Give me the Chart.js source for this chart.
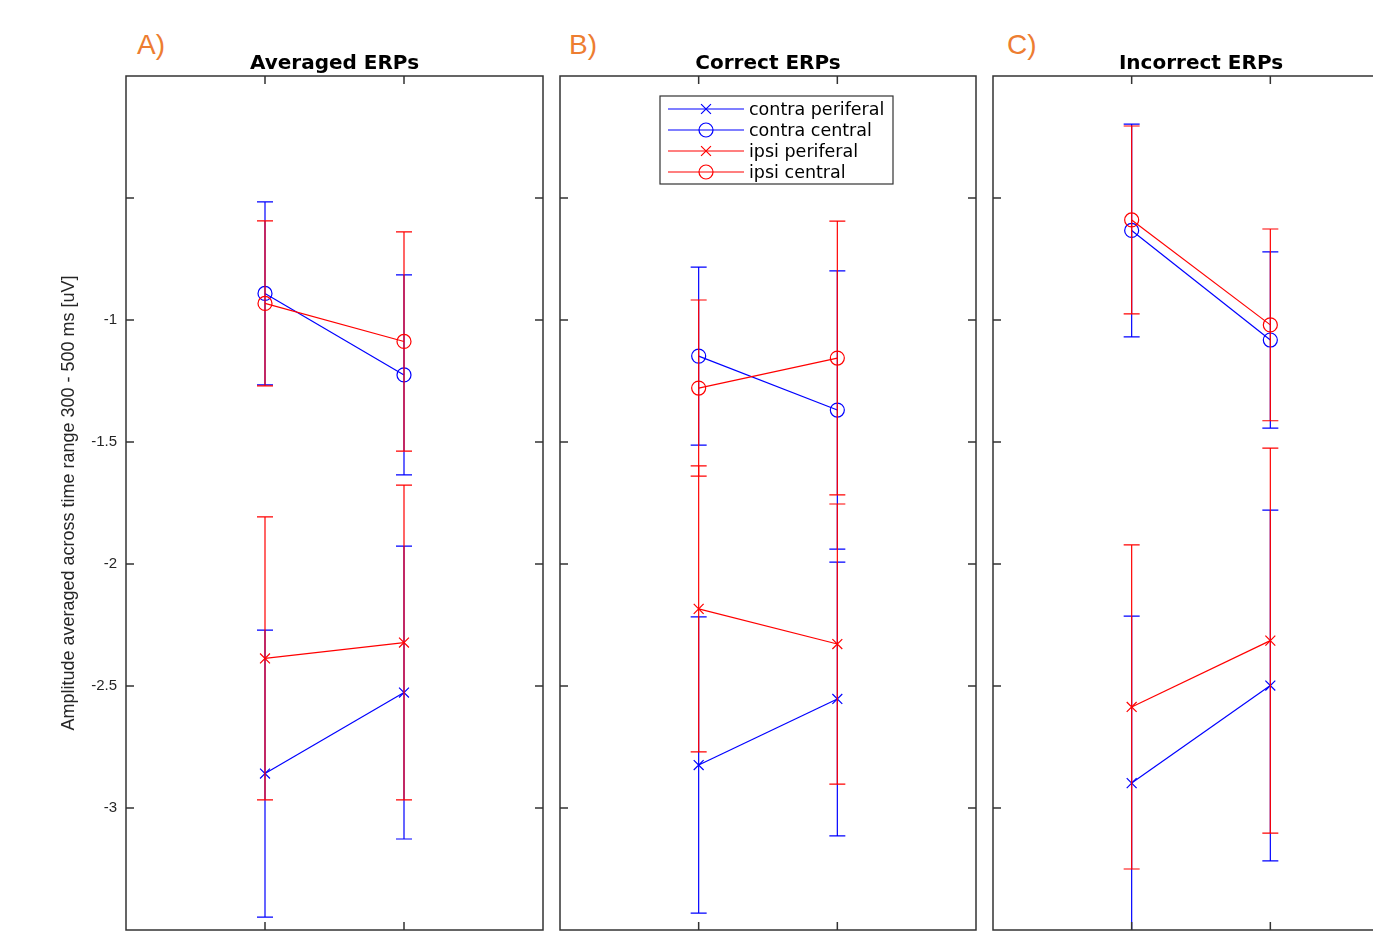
<!DOCTYPE html>
<html>
<head>
<meta charset="utf-8">
<title>ERP amplitudes</title>
<script src="https://cdn.jsdelivr.net/npm/chart.js@4.4.1/dist/chart.umd.min.js"></script>
<style>
  html, body { margin:0; padding:0; background:#fff; overflow:hidden; }
  body { width:1373px; height:937px; position:relative; }
  canvas { position:absolute; top:0; }
  .tag { position:absolute; top:29px; font:28px "Liberation Sans", Arial, sans-serif; color:#ed7d31; }
</style>
</head>
<body>
<div class="tag" style="left:137px">A)</div>
<div class="tag" style="left:569px">B)</div>
<div class="tag" style="left:1007px">C)</div>
<canvas id="c-avg" width="552" height="937" style="left:0"></canvas>
<canvas id="c-cor" width="433" height="937" style="left:552px"></canvas>
<canvas id="c-inc" width="433" height="937" style="left:985px"></canvas>
<script>
'use strict';

// x positions of the two conditions (unlabelled in the figure)
const xCats = [1, 2];
const seriesLabels = ['contra periferal', 'contra central', 'ipsi periferal', 'ipsi central'];
const yTickMarks = [-3, -2.5, -2, -1.5, -1, -0.5];
const yTickLabels = [-3, -2.5, -2, -1.5, -1];

// A) Averaged ERPs
const avgContraPeri = [-2.859, -2.527];
const avgContraPeriErr = [0.588, 0.600];
const avgContraCent = [-0.891, -1.225];
const avgContraCentErr = [0.375, 0.410];
const avgIpsiPeri = [-2.387, -2.322];
const avgIpsiPeriErr = [0.580, 0.645];
const avgIpsiCent = [-0.932, -1.088];
const avgIpsiCentErr = [0.338, 0.449];

// B) Correct ERPs
const corContraPeri = [-2.824, -2.553];
const corContraPeriErr = [0.607, 0.561];
const corContraCent = [-1.148, -1.369];
const corContraCentErr = [0.365, 0.570];
const corIpsiPeri = [-2.184, -2.328];
const corIpsiPeriErr = [0.586, 0.574];
const corIpsiCent = [-1.279, -1.156];
const corIpsiCentErr = [0.361, 0.561];

// C) Incorrect ERPs
const incContraPeri = [-2.898, -2.498];
const incContraPeriErr = [0.684, 0.719];
const incContraCent = [-0.633, -1.082];
const incContraCentErr = [0.436, 0.361];
const incIpsiPeri = [-2.586, -2.314];
const incIpsiPeriErr = [0.664, 0.789];
const incIpsiCent = [-0.590, -1.020];
const incIpsiCentErr = [0.385, 0.393];

const BLUE = '#0000ff', RED = '#ff0000', AXIS = '#333333';
const seriesColors = [BLUE, BLUE, RED, RED];
const seriesMarkers = ['crossRot', 'circle', 'crossRot', 'circle'];
const seriesRadius = [7, 7, 7, 7];

Chart.defaults.font.family = '"Liberation Sans", Arial, sans-serif';

// vertical error bars drawn right before each series, like matlab errorbar()
const errorBars = {
  id: 'errorBars',
  beforeDatasetDraw(chart, args) {
    const ds = chart.data.datasets[args.index];
    if (!ds.errors) return;
    const { ctx, chartArea: a, scales: { x, y } } = chart;
    ctx.save();
    ctx.beginPath(); ctx.rect(a.left, a.top, a.width, a.height); ctx.clip();
    ctx.strokeStyle = ds.borderColor; ctx.lineWidth = 1.2;
    ds.data.forEach((p, i) => {
      const px = x.getPixelForValue(p.x);
      const hi = y.getPixelForValue(p.y + ds.errors[i]);
      const lo = y.getPixelForValue(p.y - ds.errors[i]);
      ctx.beginPath();
      ctx.moveTo(px, hi); ctx.lineTo(px, lo);
      ctx.moveTo(px - 8, hi); ctx.lineTo(px + 8, hi);
      ctx.moveTo(px - 8, lo); ctx.lineTo(px + 8, lo);
      ctx.stroke();
    });
    ctx.restore();
  }
};

// matlab style box with inward ticks on all sides
const boxAxes = {
  id: 'boxAxes',
  afterDraw(chart) {
    const { ctx, chartArea: a, scales: { x, y } } = chart;
    const tl = 8;
    ctx.save();
    ctx.strokeStyle = AXIS; ctx.lineWidth = 1.5;
    ctx.strokeRect(a.left, a.top, a.width, a.height);
    ctx.beginPath();
    xCats.forEach(v => {
      const px = x.getPixelForValue(v);
      ctx.moveTo(px, a.bottom); ctx.lineTo(px, a.bottom - tl);
      ctx.moveTo(px, a.top); ctx.lineTo(px, a.top + tl);
    });
    yTickMarks.forEach(v => {
      const py = y.getPixelForValue(v);
      ctx.moveTo(a.left, py); ctx.lineTo(a.left + tl, py);
      ctx.moveTo(a.right, py); ctx.lineTo(a.right - tl, py);
    });
    ctx.stroke();
    ctx.restore();
  }
};

// legend box inside the "Correct ERPs" panel
const legendBox = {
  id: 'legendBox',
  afterDraw(chart) {
    const { ctx, chartArea: a } = chart;
    const left = a.left + 100, top = a.top + 20, w = 233, h = 88;
    ctx.save();
    ctx.fillStyle = '#fff'; ctx.fillRect(left, top, w, h);
    ctx.strokeStyle = AXIS; ctx.lineWidth = 1.2; ctx.strokeRect(left, top, w, h);
    chart.data.datasets.slice().sort((p, q) => q.order - p.order).forEach((ds, i) => {
      const cy = top + 13 + 21 * i;
      ctx.strokeStyle = ds.borderColor; ctx.lineWidth = 1.2;
      ctx.beginPath(); ctx.moveTo(left + 8, cy); ctx.lineTo(left + 84, cy); ctx.stroke();
      ctx.fillStyle = 'rgba(0,0,0,0)';
      Chart.helpers.drawPoint(ctx, { pointStyle: ds.pointStyle, radius: ds.pointRadius, borderWidth: 1.2, rotation: 0 }, left + 46, cy);
      ctx.fillStyle = '#000'; ctx.font = '17.5px "DejaVu Sans", sans-serif';
      ctx.textBaseline = 'middle'; ctx.textAlign = 'left';
      ctx.fillText(ds.label, left + 89, cy + 1);
    });
    ctx.restore();
  }
};

function makeSeries(means, errs) {
  return means.map((m, s) => ({
    label: seriesLabels[s],
    data: xCats.map((x, i) => ({ x, y: m[i] })),
    errors: errs[s],
    borderColor: seriesColors[s],
    backgroundColor: 'rgba(0,0,0,0)',
    borderWidth: 1.2,
    pointStyle: seriesMarkers[s],
    pointRadius: seriesRadius[s],
    pointBorderWidth: 1.2,
    pointBackgroundColor: 'rgba(0,0,0,0)',
    tension: 0,
    order: 3 - s
  }));
}

function makePanel(id, title, means, errs, opts) {
  const plugins = [errorBars, boxAxes];
  if (opts.legend) plugins.push(legendBox);
  return new Chart(document.getElementById(id), {
    type: 'line',
    data: { datasets: makeSeries(means, errs) },
    plugins,
    options: {
      responsive: false,
      animation: false,
      layout: { autoPadding: false, padding: { left: opts.padLeft, right: 9, top: 0, bottom: 7 } },
      plugins: {
        legend: { display: false },
        tooltip: { enabled: false },
        title: {
          display: true, text: title, fullSize: false, color: '#000',
          font: { family: '"DejaVu Sans", sans-serif', size: 20, weight: 'bold', lineHeight: 1.2 },
          padding: { top: 52, bottom: 0 }
        }
      },
      scales: {
        x: {
          type: 'linear', min: 0, max: 3, display: false,
          afterBuildTicks: s => { s.ticks = xCats.map(v => ({ value: v })); }
        },
        y: {
          type: 'linear', min: -3.5, max: 0,
          display: opts.yAxis,
          afterBuildTicks: s => { s.ticks = yTickMarks.map(v => ({ value: v })); },
          afterFit: s => {
            if (opts.yAxis) s.width = 126;
            s.paddingTop = 0; s.paddingBottom = 0;
          },
          grid: { display: false, drawTicks: false },
          border: { display: false },
          ticks: {
            padding: 9, color: '#262626', font: { size: 15 },
            callback: v => yTickLabels.includes(v) ? String(v) : ''
          },
          title: {
            display: true, color: '#262626',
            text: 'Amplitude averaged across time range 300 - 500 ms [uV]',
            font: { size: 18 }, padding: { top: 58, bottom: 0 }
          }
        }
      }
    }
  });
}

makePanel('c-avg', 'Averaged ERPs',
  [avgContraPeri, avgContraCent, avgIpsiPeri, avgIpsiCent],
  [avgContraPeriErr, avgContraCentErr, avgIpsiPeriErr, avgIpsiCentErr],
  { yAxis: true, padLeft: 0 });
makePanel('c-cor', 'Correct ERPs',
  [corContraPeri, corContraCent, corIpsiPeri, corIpsiCent],
  [corContraPeriErr, corContraCentErr, corIpsiPeriErr, corIpsiCentErr],
  { yAxis: false, padLeft: 8, legend: true });
makePanel('c-inc', 'Incorrect ERPs',
  [incContraPeri, incContraCent, incIpsiPeri, incIpsiCent],
  [incContraPeriErr, incContraCentErr, incIpsiPeriErr, incIpsiCentErr],
  { yAxis: false, padLeft: 8 });
</script>
</body>
</html>
